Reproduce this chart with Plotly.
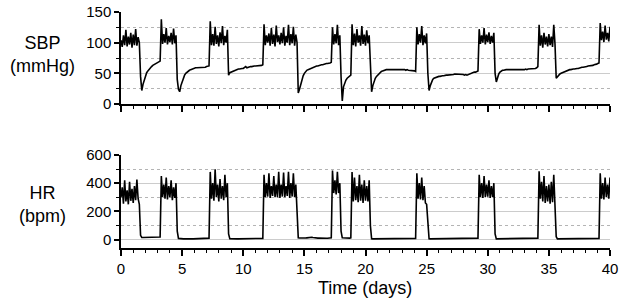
import plotly.graph_objects as go
from plotly.subplots import make_subplots

# Sampling of the recordings (days)
t_start = 0.0
t_step = 0.1

# Systolic blood pressure (mmHg), one row per day (0.1-day samples)
sbp_mmhg = [
    104, 93, 112, 96, 121, 94, 110, 97, 116, 92,
    113, 96, 122, 95, 109, 100, 45, 22, 32, 40,
    46, 51, 54, 57, 59, 61, 63, 64, 65, 66,
    67, 68, 70, 138, 98, 114, 100, 124, 97, 111,
    101, 116, 97, 123, 99, 112, 40, 24, 20, 30,
    37, 43, 47, 50, 52, 54, 55, 56, 57, 58,
    58, 59, 59, 59, 60, 60, 60, 60, 60, 60,
    61, 61, 62, 135, 96, 114, 95, 126, 98, 112,
    94, 117, 99, 127, 96, 111, 100, 121, 47, 51,
    52, 53, 54, 55, 56, 56, 57, 57, 58, 58,
    58, 59, 61, 59, 60, 60, 61, 61, 62, 62,
    62, 62, 63, 63, 63, 63, 64, 130, 96, 112,
    100, 115, 95, 124, 98, 113, 94, 128, 101, 112,
    97, 116, 99, 125, 95, 111, 100, 129, 96, 114,
    99, 126, 95, 113, 100, 18, 24, 32, 40, 46,
    50, 53, 55, 56, 57, 58, 59, 59, 60, 61,
    62, 62, 63, 63, 64, 64, 65, 65, 66, 66,
    66, 67, 68, 125, 97, 114, 99, 129, 96, 112,
    45, 5, 28, 35, 39, 42, 44, 46, 47, 130,
    96, 115, 94, 122, 100, 112, 95, 127, 98, 113,
    95, 120, 99, 112, 50, 20, 30, 37, 42, 45,
    47, 50, 52, 53, 54, 55, 55, 56, 56, 56,
    56, 57, 57, 57, 56, 57, 57, 56, 57, 56,
    56, 56, 56, 55, 56, 55, 55, 54, 55, 54,
    54, 53, 125, 97, 114, 100, 127, 96, 112, 99,
    115, 50, 22, 30, 36, 40, 42, 43, 44, 45,
    45, 45, 46, 46, 46, 47, 47, 47, 47, 48,
    48, 48, 48, 49, 49, 48, 49, 49, 48, 48,
    48, 47, 48, 47, 48, 49, 50, 51, 51, 52,
    52, 53, 54, 122, 98, 112, 100, 124, 97, 113,
    101, 117, 98, 111, 100, 116, 50, 36, 44, 49,
    52, 54, 55, 55, 56, 56, 56, 56, 56, 56,
    56, 56, 55, 56, 55, 56, 56, 55, 56, 56,
    56, 57, 56, 57, 57, 58, 57, 58, 58, 58,
    59, 61, 129, 95, 112, 92, 116, 97, 110, 94,
    114, 96, 110, 93, 129, 98, 42, 45, 47, 49,
    50, 51, 52, 53, 54, 55, 55, 56, 56, 57,
    57, 57, 58, 58, 58, 59, 59, 60, 60, 60,
    61, 61, 62, 62, 62, 63, 63, 64, 64, 65,
    66, 67, 132, 104, 118, 101, 128, 105, 116, 102,
    126,
]

# Heart rate (bpm), one row per day (0.1-day samples)
hr_bpm = [
    300, 370, 255, 420, 270, 350, 250, 410, 275, 360,
    260, 380, 280, 425, 290, 250, 30, 15, 14, 14,
    14, 14, 14, 13, 14, 14, 15, 15, 14, 15,
    15, 15, 18, 450, 300, 390, 290, 440, 285, 380,
    300, 420, 280, 370, 295, 400, 60, 8, 6, 5,
    5, 5, 6, 5, 5, 5, 6, 5, 5, 5,
    5, 6, 5, 5, 5, 6, 5, 5, 5, 5,
    5, 5, 10, 480, 290, 400, 275, 498, 300, 390,
    270, 430, 290, 380, 280, 460, 300, 400, 40, 6,
    5, 5, 5, 6, 5, 5, 5, 5, 6, 5,
    5, 5, 6, 5, 5, 5, 5, 6, 5, 5,
    5, 5, 5, 6, 5, 5, 8, 460, 300, 400,
    305, 470, 295, 380, 310, 450, 300, 390, 300, 480,
    295, 390, 305, 475, 300, 380, 310, 480, 295, 400,
    305, 470, 300, 390, 150, 12, 11, 10, 10, 10,
    10, 11, 12, 14, 15, 18, 16, 14, 12, 11,
    10, 10, 10, 9, 9, 9, 9, 9, 9, 9,
    9, 9, 12, 490, 330, 420, 320, 480, 330, 400,
    60, 12, 11, 10, 10, 10, 10, 10, 12, 480,
    270, 440, 280, 380, 265, 460, 275, 390, 260, 420,
    275, 380, 270, 420, 100, 6, 5, 5, 5, 5,
    5, 6, 5, 5, 5, 5, 6, 5, 5, 5,
    5, 5, 5, 6, 5, 5, 5, 5, 6, 5,
    5, 5, 6, 5, 5, 5, 5, 6, 5, 5,
    5, 8, 470, 290, 400, 285, 440, 280, 380, 260,
    250, 90, 6, 5, 5, 5, 5, 6, 5, 5,
    5, 5, 5, 6, 5, 5, 5, 5, 6, 5,
    5, 6, 5, 5, 5, 6, 5, 5, 5, 5,
    5, 5, 5, 5, 6, 5, 5, 5, 5, 6,
    5, 5, 10, 460, 300, 400, 295, 450, 300, 390,
    305, 420, 295, 380, 300, 400, 40, 5, 5, 5,
    5, 6, 5, 5, 5, 5, 6, 5, 5, 5,
    5, 5, 5, 6, 5, 5, 5, 5, 6, 5,
    5, 6, 5, 5, 5, 6, 5, 5, 5, 5,
    5, 10, 485, 290, 410, 270, 450, 260, 380, 270,
    390, 255, 410, 265, 460, 270, 20, 5, 5, 5,
    5, 6, 5, 5, 5, 5, 6, 5, 5, 5,
    5, 5, 5, 6, 5, 5, 5, 5, 6, 5,
    5, 6, 5, 5, 5, 6, 5, 5, 5, 5,
    5, 8, 470, 290, 400, 285, 440, 300, 390, 290,
    440,
]

assert len(sbp_mmhg) == 401, len(sbp_mmhg)
assert len(hr_bpm) == 401, len(hr_bpm)

x_ticks = [0, 5, 10, 15, 20, 25, 30, 35, 40]
sbp_ticks = [0, 50, 100, 150]
hr_ticks = [0, 200, 400, 600]

W, H = 624, 308
L, R, T, B = 121, 14, 12, 60
plot_h = H - T - B

def py(px):
    return (H - B - px) / plot_h

fig = make_subplots(rows=2, cols=1, shared_xaxes=False, vertical_spacing=0.05)

fig.add_trace(go.Scatter(x0=t_start, dx=t_step, y=sbp_mmhg, mode="lines",
                         line=dict(color="black", width=1.6), showlegend=False),
              row=1, col=1)
fig.add_trace(go.Scatter(x0=t_start, dx=t_step, y=hr_bpm, mode="lines",
                         line=dict(color="black", width=1.6), showlegend=False),
              row=2, col=1)

font_family = "Liberation Sans, Arial, sans-serif"

xcommon = dict(range=[0, 40], showline=True, linecolor="black", linewidth=1.5,
               ticks="outside", ticklen=6, tickwidth=1.5, tickcolor="black",
               tickvals=x_ticks, showgrid=False, zeroline=False, automargin=False,
               minor=dict(dtick=1, ticks="outside", ticklen=3, tickwidth=1.2,
                          tickcolor="black", showgrid=False),
               tickfont=dict(size=15, color="black", family=font_family))

ycommon = dict(showline=True, linecolor="black", linewidth=1.5,
               ticks="outside", ticklen=5, tickwidth=1.5, tickcolor="black",
               showgrid=True, gridcolor="#cccccc", gridwidth=1.3, zeroline=False,
               automargin=False,
               tickfont=dict(size=15, color="black", family=font_family))

fig.update_xaxes(**xcommon, showticklabels=False, row=1, col=1)
fig.update_xaxes(**xcommon, showticklabels=True, ticktext=[str(v) for v in x_ticks],
                 row=2, col=1)

fig.update_yaxes(**ycommon, range=[0, 150], tickvals=sbp_ticks,
                 minor=dict(dtick=25, tick0=0, ticks="outside", ticklen=3, tickwidth=1.2,
                            tickcolor="black", showgrid=True, griddash="dot",
                            gridcolor="#b4b4b4", gridwidth=1),
                 row=1, col=1)
fig.update_yaxes(**ycommon, range=[-60, 600], tickvals=hr_ticks,
                 minor=dict(dtick=100, tick0=0, ticks="outside", ticklen=3, tickwidth=1.2,
                            tickcolor="black", showgrid=True, griddash="dot",
                            gridcolor="#b4b4b4", gridwidth=1),
                 row=2, col=1)

fig.update_layout(
    xaxis=dict(domain=[0, 1]),
    xaxis2=dict(domain=[0, 1]),
    yaxis=dict(domain=[py(104), 1]),
    yaxis2=dict(domain=[0, py(155)]),
)

annot_font = dict(size=18, color="black", family=font_family)
fig.add_annotation(text="SBP<br>(mmHg)", xref="paper", yref="paper",
                   x=(42 - L) / (W - L - R), y=py(55), xanchor="center", yanchor="middle",
                   showarrow=False, font=annot_font)
fig.add_annotation(text="HR<br>(bpm)", xref="paper", yref="paper",
                   x=(42 - L) / (W - L - R), y=py(204), xanchor="center", yanchor="middle",
                   showarrow=False, font=annot_font)
fig.add_annotation(text="Time (days)", xref="paper", yref="paper",
                   x=(365 - L) / (W - L - R), y=py(288), xanchor="center", yanchor="middle",
                   showarrow=False, font=annot_font)

fig.update_layout(width=W, height=H, margin=dict(l=L, r=R, t=T, b=B),
                  paper_bgcolor="white", plot_bgcolor="white",
                  font=dict(family=font_family, color="black"))

fig.write_html("out.html", config={"displayModeBar": False},
               post_script="document.body.style.margin='0';document.body.style.overflow='hidden';")
